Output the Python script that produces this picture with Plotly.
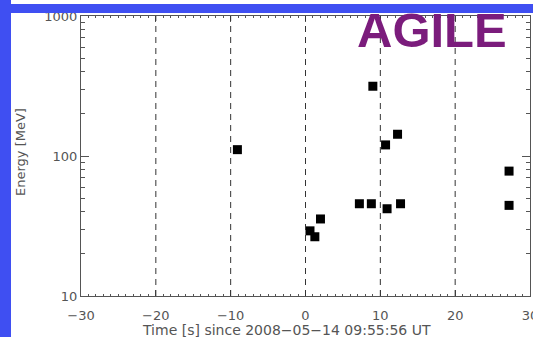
import plotly.graph_objects as go

# Photon arrival times (s since trigger) and energies (MeV)
times = [-9.1, 0.6, 1.25, 2.0, 7.2, 8.8, 9.0, 10.7, 10.9, 12.3, 12.7, 27.2, 27.2]
energies = [111, 29.2, 26.5, 35.5, 45.6, 45.6, 315, 120, 42, 143, 45.6, 78, 44.4]

# Reference epochs marked with dashed lines
ref_times = [-20, -10, 0, 10, 20]

x_ticks = [-30, -20, -10, 0, 10, 20, 30]
x_ticktext = ["\u221230", "\u221220", "\u221210", "0", "10", "20", "30"]
y_ticks = [10, 100, 1000]
y_ticktext = ["10", "100", "1000"]

axis_color = "#555555"
text_color = "#555555"
font_family = "DejaVu Sans"

fig = go.Figure()

fig.add_trace(go.Scatter(
    x=times, y=energies, mode="markers",
    marker=dict(symbol="square", size=9, color="black", line=dict(width=0)),
    showlegend=False,
))

for t in ref_times:
    fig.add_vline(x=t, line=dict(color="#333333", width=1, dash="6px,5px"))

L, R, T, B = 81, 3, 16, 41
W, H = 533, 337
pw, ph = W - L - R, H - T - B

# blue frame strips on the left and top edges
fig.add_shape(type="rect", xref="paper", yref="paper",
              x0=-L / pw, x1=-(L - 11) / pw, y0=-B / ph, y1=(ph + T) / ph,
              fillcolor="#3f4ff2", line=dict(width=0), layer="above")
fig.add_shape(type="rect", xref="paper", yref="paper",
              x0=-L / pw, x1=(pw + R) / pw, y0=1 + 3 / ph, y1=1 + 12 / ph,
              fillcolor="#3f4ff2", line=dict(width=0), layer="above")

fig.add_annotation(text="<b>AGILE</b>", xref="paper", yref="paper",
                   x=(355 - L) / pw, y=1 - (30 - T) / ph,
                   xanchor="left", yanchor="middle", showarrow=False,
                   font=dict(family="Liberation Sans", size=49, color="#7b1c7c"))

fig.add_annotation(text="Time [s] since 2008\u221205\u221214 09:55:56 UT",
                   xref="paper", yref="paper",
                   x=(286 - L) / pw, y=-(330 - T - ph) / ph,
                   xanchor="center", yanchor="middle", showarrow=False,
                   font=dict(family=font_family, size=14, color=text_color))
fig.add_annotation(text="Energy [MeV]", xref="paper", yref="paper",
                   x=-(L - 20) / pw, y=1 - (152 - T) / ph, textangle=-90,
                   xanchor="center", yanchor="middle", showarrow=False,
                   font=dict(family=font_family, size=13, color=text_color))

fig.update_xaxes(
    range=[-30, 30], tickvals=x_ticks, ticktext=x_ticktext,
    ticks="inside", ticklen=6, tickcolor=axis_color, tickwidth=1,
    minor=dict(ticks="inside", ticklen=2, dtick=1, tickcolor=axis_color, showgrid=False),
    showline=True, linecolor=axis_color, linewidth=1, mirror="ticks",
    showgrid=False, zeroline=False, ticklabelstandoff=7,
    ticklabeloverflow="allow", automargin=False,
    tickfont=dict(family=font_family, size=13, color=text_color),
)
fig.update_yaxes(
    type="log", range=[1, 3], tickvals=y_ticks, ticktext=y_ticktext,
    ticks="inside", ticklen=8, tickcolor=axis_color, tickwidth=1,
    minor=dict(ticks="inside", ticklen=4, dtick="D1", tickcolor=axis_color, showgrid=False),
    showline=True, linecolor=axis_color, linewidth=1, mirror="ticks",
    showgrid=False, zeroline=False, automargin=False,
    tickfont=dict(family=font_family, size=13, color=text_color),
)

fig.update_layout(
    width=W, height=H,
    margin=dict(l=L, r=R, t=T, b=B),
    paper_bgcolor="white", plot_bgcolor="white",
)

fig.write_html("out.html")
